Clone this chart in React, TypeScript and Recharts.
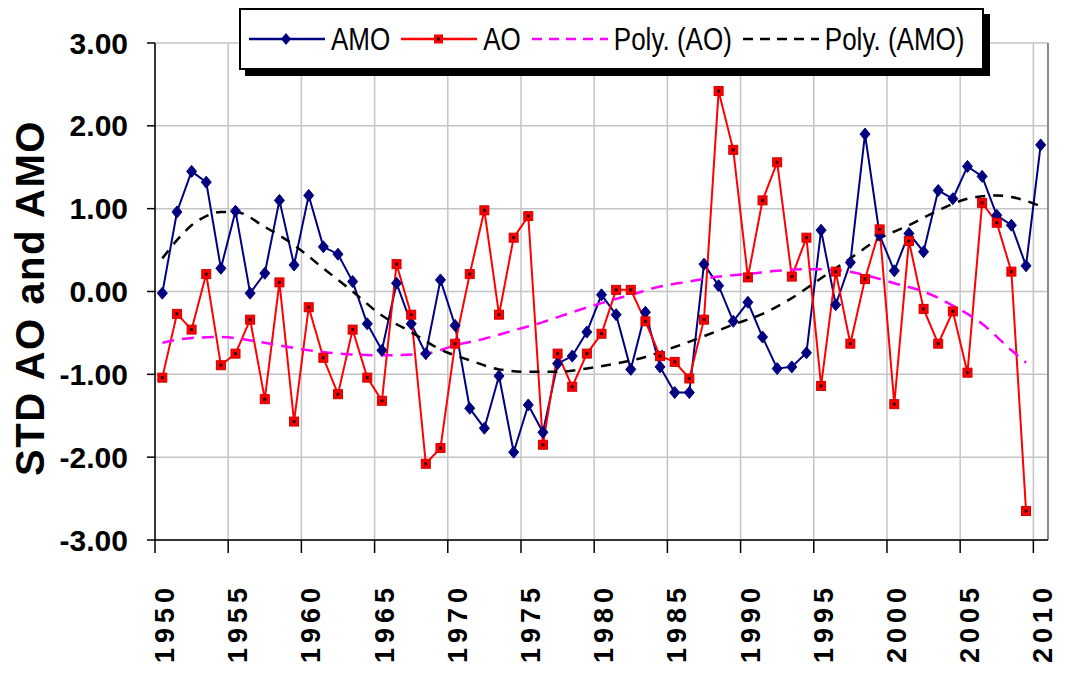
import React from 'react';
import { LineChart, Line, XAxis, YAxis, CartesianGrid, ReferenceLine } from 'recharts';

// categories
const years = [
  1950, 1951, 1952, 1953, 1954, 1955, 1956, 1957, 1958, 1959,
  1960, 1961, 1962, 1963, 1964, 1965, 1966, 1967, 1968, 1969,
  1970, 1971, 1972, 1973, 1974, 1975, 1976, 1977, 1978, 1979,
  1980, 1981, 1982, 1983, 1984, 1985, 1986, 1987, 1988, 1989,
  1990, 1991, 1992, 1993, 1994, 1995, 1996, 1997, 1998, 1999,
  2000, 2001, 2002, 2003, 2004, 2005, 2006, 2007, 2008, 2009,
  2010,
];

const amoValues = [
  -0.02, 0.96, 1.45, 1.32, 0.28, 0.97, -0.02, 0.22, 1.1, 0.32,
  1.16, 0.54, 0.45, 0.12, -0.39, -0.71, 0.1, -0.39, -0.75, 0.14,
  -0.41, -1.41, -1.65, -1.02, -1.94, -1.37, -1.7, -0.87, -0.78, -0.49,
  -0.04, -0.28, -0.94, -0.25, -0.91, -1.22, -1.22, 0.33, 0.07, -0.36,
  -0.13, -0.55, -0.93, -0.91, -0.74, 0.74, -0.16, 0.35, 1.9, 0.68,
  0.25, 0.7, 0.48, 1.22, 1.12, 1.51, 1.39, 0.92, 0.8, 0.31,
  1.77,
];

// AO stops at 2009
const aoValues = [
  -1.04, -0.27, -0.46, 0.21, -0.89, -0.75, -0.34, -1.3, 0.11, -1.57,
  -0.19, -0.8, -1.24, -0.46, -1.04, -1.32, 0.33, -0.28, -2.08, -1.89,
  -0.63, 0.21, 0.98, -0.28, 0.65, 0.91, -1.85, -0.75, -1.15, -0.75,
  -0.51, 0.02, 0.02, -0.36, -0.78, -0.85, -1.05, -0.34, 2.42, 1.71,
  0.17, 1.1, 1.56, 0.18, 0.65, -1.14, 0.24, -0.63, 0.15, 0.75,
  -1.36, 0.61, -0.21, -0.63, -0.24, -0.98, 1.07, 0.83, 0.24, -2.65,
];

// trend curves
const polyAoYears = [
  1950, 1952, 1954, 1957, 1960, 1963, 1965, 1968, 1970, 1972,
  1974, 1976, 1978, 1980, 1982, 1984, 1986, 1988, 1990, 1992,
  1994, 1996, 1998, 2000, 2002, 2004, 2006, 2008, 2009,
];
const polyAoValues = [
  -0.62, -0.56, -0.55, -0.62, -0.71, -0.76, -0.77, -0.75, -0.65, -0.57,
  -0.47, -0.37, -0.25, -0.14, -0.04, 0.06, 0.12, 0.18, 0.21, 0.25,
  0.27, 0.26, 0.2, 0.1, 0.0, -0.17, -0.39, -0.71, -0.86,
];

const polyAmoYears = [
  1950, 1951, 1952, 1953, 1954, 1955, 1957, 1959, 1961, 1963,
  1965, 1967, 1969, 1971, 1973, 1975, 1977, 1979, 1981, 1983,
  1985, 1987, 1989, 1991, 1993, 1995, 1997, 1999, 2001, 2003,
  2005, 2006, 2007, 2008, 2010,
];
const polyAmoValues = [
  0.4, 0.62, 0.8, 0.91, 0.96, 0.96, 0.78, 0.56, 0.28, 0.0,
  -0.29, -0.49, -0.7, -0.83, -0.94, -0.97, -0.97, -0.93, -0.87, -0.79,
  -0.67, -0.54, -0.4, -0.27, -0.08, 0.16, 0.4, 0.64, 0.8, 0.98,
  1.12, 1.15, 1.16, 1.14, 1.03,
];

const yTicks = [-3, -2, -1, 0, 1, 2, 3];
const yearLabels = [1950, 1955, 1960, 1965, 1970, 1975, 1980, 1985, 1990, 1995, 2000, 2005, 2010];

const seriesData = years.map((year, i) => ({ year, amo: amoValues[i], ao: aoValues[i] }));
const polyAoData = polyAoYears.map((year, i) => ({ year, polyAo: polyAoValues[i] }));
const polyAmoData = polyAmoYears.map((year, i) => ({ year, polyAmo: polyAmoValues[i] }));

const FONT = '"Liberation Sans", Arial, sans-serif';
const AMO_COLOR = '#000080';
const AO_COLOR = '#ff0000';
const POLY_AO_COLOR = '#ff00ff';
const POLY_AMO_COLOR = '#000000';

const DiamondDot = (props: any) => {
  const { cx, cy, index } = props;
  if (cx == null || cy == null) return <g key={`d-${index}`} />;
  return (
    <path
      key={`d-${index}`}
      d={`M${cx},${cy - 6}L${cx + 5},${cy}L${cx},${cy + 6}L${cx - 5},${cy}Z`}
      fill={AMO_COLOR}
      stroke={AMO_COLOR}
      strokeWidth={1}
    />
  );
};

const SquareDot = (props: any) => {
  const { cx, cy, index } = props;
  if (cx == null || cy == null) return <g key={`s-${index}`} />;
  return (
    <g key={`s-${index}`}>
      <rect x={cx - 4.5} y={cy - 4.5} width={9} height={9} fill={AO_COLOR} stroke="#d00000" strokeWidth={1} />
      <rect x={cx - 1.5} y={cy - 1.5} width={3} height={3} fill="#300000" />
    </g>
  );
};

const YearTick = (props: any) => {
  const { x, payload } = props;
  const label = Math.round(payload.value + 0.5);
  return (
    <text
      transform={`translate(${x + 19},583) rotate(-90)`}
      textAnchor="end"
      fontFamily={FONT}
      fontWeight="bold"
      fontSize={27}
      letterSpacing={5}
      fill="#000"
    >
      {label}
    </text>
  );
};

const legendItems = [
  { name: 'AMO', color: AMO_COLOR, dash: undefined, marker: 'diamond' },
  { name: 'AO', color: AO_COLOR, dash: undefined, marker: 'square' },
  { name: 'Poly. (AO)', color: POLY_AO_COLOR, dash: '10 7', marker: 'none' },
  { name: 'Poly. (AMO)', color: POLY_AMO_COLOR, dash: '10 7', marker: 'none' },
];

const ChartLegend = () => (
  <div
    style={{
      position: 'absolute',
      left: 239,
      top: 8,
      width: 733,
      height: 58,
      border: '2px solid #000',
      boxShadow: '6px 6px 0 #000',
      background: '#fff',
      display: 'flex',
      alignItems: 'center',
      paddingLeft: 8,
      boxSizing: 'content-box',
      fontFamily: FONT,
      fontSize: 26,
      color: '#000',
    }}
  >
    {legendItems.map((item) => (
      <div key={item.name} style={{ display: 'flex', alignItems: 'center', marginRight: 11 }}>
        <svg width={76} height={20} style={{ marginRight: 6 }}>
          <line x1={0} y1={10} x2={76} y2={10} stroke={item.color} strokeWidth={2.5} strokeDasharray={item.dash} />
          {item.marker === 'diamond' && <path d="M37,4L42,10L37,16L32,10Z" fill={item.color} />}
          {item.marker === 'square' && (
            <g>
              <rect x={33} y={5.5} width={9} height={9} fill={item.color} />
              <rect x={36} y={8.5} width={3} height={3} fill="#300000" />
            </g>
          )}
        </svg>
        <span
          style={{
            display: 'inline-block',
            whiteSpace: 'nowrap',
            lineHeight: '30px',
            transform: 'scaleY(1.2)',
          }}
        >
          {item.name}
        </span>
      </div>
    ))}
  </div>
);

const App: React.FC = () => {
  return (
    <div style={{ position: 'absolute', left: 0, top: 0, width: 1065, height: 675, background: '#fff' }}>
      <LineChart width={1065} height={675} margin={{ top: 43, right: 17, bottom: 0, left: 0 }}>
        <CartesianGrid stroke="#c4c4c4" strokeWidth={1.5} />
        <XAxis
          dataKey="year"
          type="number"
          domain={[1949.5, 2010.5]}
          ticks={yearLabels.map((y) => y - 0.5)}
          tick={<YearTick />}
          tickSize={13}
          tickLine={{ stroke: '#000', strokeWidth: 1.5 }}
          axisLine={{ stroke: '#000', strokeWidth: 1.5 }}
          height={135}
          allowDuplicatedCategory={false}
        />
        <YAxis
          type="number"
          domain={[-3, 3]}
          ticks={yTicks}
          tickFormatter={(v: number) => v.toFixed(2)}
          tick={{ fontFamily: FONT, fontWeight: 'bold', fontSize: 30, fill: '#000' }}
          tickSize={8}
          tickMargin={19}
          tickLine={{ stroke: '#000', strokeWidth: 1.5 }}
          axisLine={{ stroke: '#000', strokeWidth: 1.5 }}
          width={155}
        />
        <ReferenceLine x={2010.5} stroke="#8a8a8a" strokeWidth={2} />
        <Line
          data={seriesData}
          dataKey="amo"
          type="linear"
          stroke={AMO_COLOR}
          strokeWidth={2}
          dot={DiamondDot}
          activeDot={false}
          isAnimationActive={false}
        />
        <Line
          data={seriesData}
          dataKey="ao"
          type="linear"
          stroke={AO_COLOR}
          strokeWidth={2}
          dot={SquareDot}
          activeDot={false}
          isAnimationActive={false}
        />
        <Line
          data={polyAoData}
          dataKey="polyAo"
          type="monotone"
          stroke={POLY_AO_COLOR}
          strokeWidth={2.5}
          strokeDasharray="12 8"
          dot={false}
          activeDot={false}
          isAnimationActive={false}
        />
        <Line
          data={polyAmoData}
          dataKey="polyAmo"
          type="monotone"
          stroke={POLY_AMO_COLOR}
          strokeWidth={2.5}
          strokeDasharray="10 8"
          dot={false}
          activeDot={false}
          isAnimationActive={false}
        />
      </LineChart>
      <svg width={60} height={675} style={{ position: 'absolute', left: 0, top: 0 }}>
        <text
          transform="translate(44,298) rotate(-90)"
          textAnchor="middle"
          fontFamily={FONT}
          fontWeight="bold"
          fontSize={40}
          letterSpacing={1.5}
          fill="#000"
        >
          STD AO and AMO
        </text>
      </svg>
      <ChartLegend />
    </div>
  );
};

export default App;
